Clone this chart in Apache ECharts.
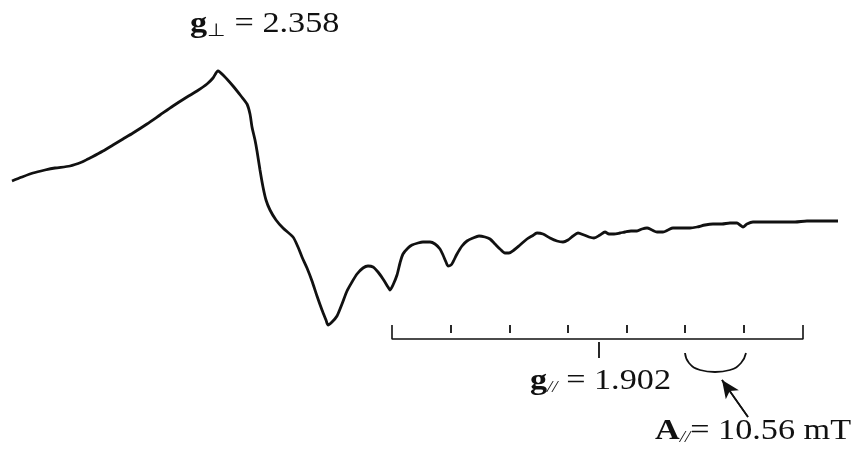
<!DOCTYPE html>
<html>
<head>
<meta charset="utf-8">
<script src="https://cdn.jsdelivr.net/npm/echarts@6/dist/echarts.min.js"></script>
<style>
html,body{margin:0;padding:0;background:#fff;}
#chart{width:851px;height:453px;}
</style>
</head>
<body>
<div id="chart"></div>
<script>
// Field position (arbitrary units) and first-derivative EPR signal (arbitrary units)
const field = [12,22,33,45,55,70,82,88,92,103,113,123,133,147,160,173,187,197,207,213,218,224,233,241,247,250,252,255,257,260,263,266,270,276,283,293,298,302,307,312,317,322,326,328,332,337,342,347,352,357,363,368,373,378,383,388,390,393,397,400,403,408,412,418,423,430,435,440,443,446,448,451,453,457,462,467,473,479,485,490,495,500,505,509,514,520,527,532,537,543,550,557,563,568,573,578,584,589,594,600,605,609,614,620,625,631,637,642,647,652,657,663,668,673,680,690,697,705,713,722,730,737,740,743,747,753,765,780,795,807,820,838];
const signal = [272,276,280,283,285,287,291,294,296,302,308,314,320,329,338,347,356,362,369,375,382,377,367,357,349,339,326,313,302,283,266,253,243,233,225,216,206,196,185,172,157,143,133,128,131,137,149,162,171,179,185,187,186,181,174,166,163,168,178,190,199,205,208,210,211,211,209,204,198,191,187,188,191,199,207,212,215,217,216,214,209,204,200,200,203,208,214,217,220,219,215,212,211,213,217,220,218,216,215,218,221,219,219,220,221,222,222,224,225,223,221,221,223,225,225,225,226,228,229,229,230,230,228,226,229,231,231,231,231,232,232,232];

// Hyperfine ruler (8 lines), g-parallel marker, A-parallel bracket and arrow
const rulerTicks = [392,451,510,568,627,685,744,803];
const rulerBase = 114, rulerTop = 128, innerTickBottom = 120;
const gParField = 599, gParTick = [95,111];
const bracketField = [685,689,700,715,730,741,746];
const bracketSignal = [100,90,83,81,83,90,100];
const arrowFrom = [748,36], arrowTo = [722,73];

// Annotation texts
const gPerpLabel = {main:'g', sub:'\u22A5', rest:' = 2.358'};
const gParLabel = {main:'g', sub:'//', rest:' = 1.902'};
const aParLabel = {main:'A', sub:'//', rest:'= 10.56 mT'};

const chart = echarts.init(document.getElementById('chart'));
const ink = '#111';

const curve = field.map((x,i)=>[x,signal[i]]);
const n = rulerTicks.length;
const rulerFrame = [[rulerTicks[0],rulerTop],[rulerTicks[0],rulerBase],[rulerTicks[n-1],rulerBase],[rulerTicks[n-1],rulerTop]];
const tickLines = rulerTicks.slice(1,n-1).map(x=>[{coord:[x,innerTickBottom]},{coord:[x,rulerTop]}]);
tickLines.push([{coord:[gParField,gParTick[0]]},{coord:[gParField,gParTick[1]]}]);
const bracket = bracketField.map((x,i)=>[x,bracketSignal[i]]);

const serif = 'Liberation Serif';
const FS = 29;
function label(lbl, left, top, italicSub){
  return {type:'text',left:left,top:top,scaleX:1.18,
    style:{text:'{g|'+lbl.main+'}{s|'+lbl.sub+'}{n|'+lbl.rest+'}',fill:ink,
      rich:{g:{fontFamily:serif,fontWeight:'bold',fontSize:FS,fill:ink},
            s:{fontFamily:serif,fontStyle:italicSub?'italic':'normal',fontSize:italicSub?16:18,padding:[13,0,0,0],fill:ink},
            n:{fontFamily:serif,fontSize:FS,fill:ink}}}};
}
chart.setOption({
  animation:false,
  backgroundColor:'#fff',
  grid:{left:0,right:0,top:0,bottom:0},
  xAxis:{type:'value',min:0,max:851,show:false},
  yAxis:{type:'value',min:0,max:453,show:false},
  series:[
    {type:'line',data:curve,symbol:'none',smooth:0.25,lineStyle:{color:ink,width:2.8},z:3},
    {type:'line',data:rulerFrame,symbol:'none',lineStyle:{color:ink,width:1.6},
      markLine:{silent:true,symbol:['none','none'],label:{show:false},lineStyle:{color:ink,width:1.8,type:'solid'},data:tickLines}},
    {type:'line',data:bracket,symbol:'none',smooth:true,lineStyle:{color:ink,width:1.8}},
    {type:'line',data:[arrowFrom,arrowTo],symbol:'none',lineStyle:{color:ink,width:1.6},
      markLine:{silent:true,symbol:['none','arrow'],symbolSize:[12,18],label:{show:false},lineStyle:{color:ink,width:1.6,type:'solid'},
        data:[[{coord:arrowFrom},{coord:arrowTo}]]}}
  ],
  graphic:[
    label(gPerpLabel,190,10,false),
    label(gParLabel,530,367,true),
    label(aParLabel,655,417,true)
  ]
});
</script>
</body>
</html>
